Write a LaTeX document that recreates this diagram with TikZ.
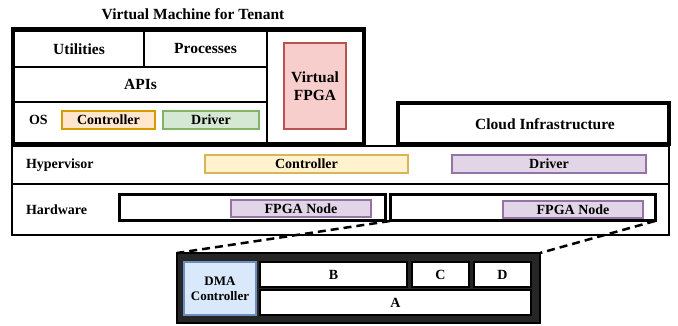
\documentclass[tikz,border=0pt]{standalone}
\usepackage{fontspec}
\setmainfont{Liberation Serif}
\definecolor{orF}{HTML}{FFE6CC}\definecolor{orD}{HTML}{D79B00}
\definecolor{grF}{HTML}{D5E8D4}\definecolor{grD}{HTML}{82B366}
\definecolor{rdF}{HTML}{F8CECC}\definecolor{rdD}{HTML}{B85450}
\definecolor{yeF}{HTML}{FFF2CC}\definecolor{yeD}{HTML}{D6B656}
\definecolor{puF}{HTML}{E1D5E7}\definecolor{puD}{HTML}{9673A6}
\definecolor{blF}{HTML}{DAE8FC}\definecolor{blD}{HTML}{6C8EBF}
\definecolor{darkfill}{HTML}{262626}
\newcommand\bx[7]{\node[#2, anchor=north west, minimum width={#5-#3}, minimum height={#6-#4}] (#1) at (#3,#4) {#7};}
\tikzset{
  base/.style={inner sep=0pt, outer sep=0pt, align=center, font=\bfseries\fontsize{14}{15}\selectfont},
  big/.style={font=\bfseries\fontsize{15.5}{17.5}\selectfont},
  cell/.style={base, draw, line width=2pt, big},
  thick box/.style={base, draw, line width=4pt},
  row/.style={base, draw, line width=2.5pt},
  cont/.style={base, draw, line width=3pt},
  colbox/.style={base, draw, line width=1.5pt},
  lbl/.style={base, anchor=west},
  zoomline/.style={line width=2.5pt, dash pattern=on 8pt off 5pt},
}
\begin{document}
\begin{tikzpicture}[x=1pt, y=-1pt]
\useasboundingbox (0,0) rectangle (678,326);
% title
\node[base, big] (title) at (193,14) {Virtual Machine for Tenant};
% VM cells
\bx{util}{cell}{14}{31}{144}{67}{Utilities}
\bx{proc}{cell}{144}{31}{267}{67}{Processes}
\bx{apis}{cell}{14}{67}{267}{102}{APIs}
\bx{os}{cell}{14}{102}{267}{143}{}
\bx{rcol}{cell}{267}{31}{364}{143}{}
\node[lbl] (oslbl) at (29,120) {OS};
\bx{osctl}{colbox, fill=orF, draw=orD}{62}{111}{155}{129}{Controller}
\bx{osdrv}{colbox, fill=grF, draw=grD}{163}{111}{259}{129}{Driver}
\bx{vfpga}{colbox, big, fill=rdF, draw=rdD}{284}{43}{346}{129}{Virtual\\FPGA}
\bx{vm}{thick box}{13}{29}{364}{144}{}
% cloud infrastructure
\bx{cloud}{thick box}{398}{103}{669}{144}{}
\node[base, big] (cloudlbl) at (545,124) {Cloud Infrastructure};
% hypervisor and hardware rows
\bx{hyp}{row}{12}{146}{669}{184}{}
\bx{hw}{row}{12}{184}{669}{235}{}
\node[lbl] (hyplbl) at (26,165) {Hypervisor};
\node[lbl] (hwlbl) at (26,210) {Hardware};
\bx{hypctl}{colbox, fill=yeF, draw=yeD}{205}{155}{408}{173}{Controller}
\bx{hypdrv}{colbox, fill=puF, draw=puD}{452}{155}{646}{173}{Driver}
\bx{contL}{cont}{119}{195}{385}{221}{}
\bx{contR}{cont}{390}{195}{655}{221}{}
\bx{nodeL}{colbox, fill=puF, draw=puD}{231}{200}{371}{217}{FPGA Node}
\bx{nodeR}{colbox, fill=puF, draw=puD}{503}{201}{643}{218}{FPGA Node}
% zoomed FPGA
\bx{fpga}{base, draw=black, fill=darkfill, line width=1.5pt}{177}{253}{540}{323}{}
\bx{dma}{colbox, font=\bfseries\fontsize{13}{15}\selectfont, fill=blF, draw=blD}{184}{262}{256}{315}{DMA\\Controller}
\bx{B}{colbox, fill=white, draw=black}{260}{262}{407}{287}{B}
\bx{C}{colbox, fill=white, draw=black}{412}{262}{469}{287}{C}
\bx{D}{colbox, fill=white, draw=black}{474}{262}{531}{287}{D}
\bx{A}{colbox, fill=white, draw=black}{260}{290}{531}{315}{A}
\draw[zoomline] (contR.south west) -- (fpga.north west);
\draw[zoomline] (contR.south east) -- (fpga.north east);
\end{tikzpicture}
\end{document}
